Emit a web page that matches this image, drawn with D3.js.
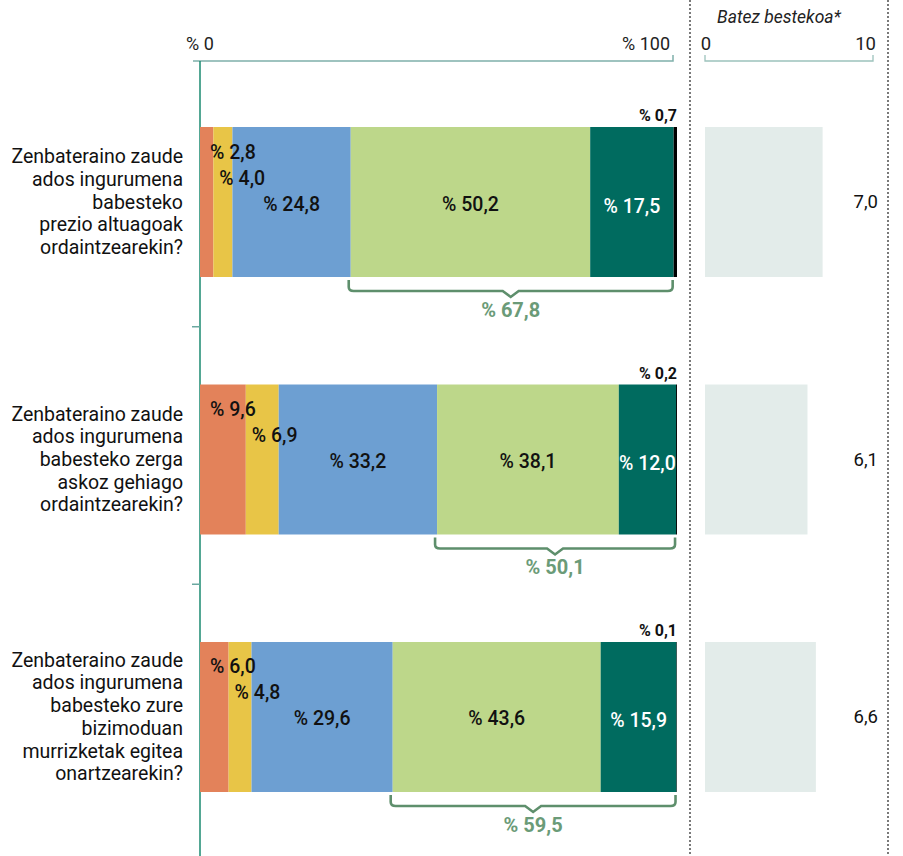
<!DOCTYPE html>
<html><head><meta charset="utf-8">
<script src="https://cdn.jsdelivr.net/npm/d3@7"></script>
<style>
html,body{margin:0;padding:0;background:#fff;}
svg{display:block;font-family:Roboto,"Noto Sans",sans-serif;}
</style></head>
<body><svg id="chart" width="903" height="856"></svg>
<script>
const categories = [
  ["Zenbateraino zaude","ados ingurumena","babesteko","prezio altuagoak","ordaintzearekin?"],
  ["Zenbateraino zaude","ados ingurumena","babesteko zerga","askoz gehiago","ordaintzearekin?"],
  ["Zenbateraino zaude","ados ingurumena","babesteko zure","bizimoduan","murrizketak egitea","onartzearekin?"]
];
const seg1 = [2.8, 9.6, 6.0];
const seg2 = [4.0, 6.9, 4.8];
const seg3 = [24.8, 33.2, 29.6];
const seg4 = [50.2, 38.1, 43.6];
const seg5 = [17.5, 12.0, 15.9];
const seg6 = [0.7, 0.2, 0.1];
const agreeTotals = [67.8, 50.1, 59.5];
const averages = [7.0, 6.1, 6.6];
const pctTicks = [0, 100];
const avgTicks = [0, 10];

const colors = ["#e3825a","#e8c547","#6d9fd2","#bdd78a","#006b5f","#000000"];
const series = [seg1, seg2, seg3, seg4, seg5, seg6];
const fmt = v => "% " + d3.format(".1f")(v).replace(".", ",");
const fmtN = v => d3.format(".1f")(v).replace(".", ",");

const svg = d3.select("#chart");
const x = d3.scaleLinear().domain([0,100]).range([200,677]);
const xa = d3.scaleLinear().domain([0,10]).range([705,873]);
const y = d3.scaleBand().domain(d3.range(categories.length)).range([19.5,899.5]).paddingInner(0.4175).paddingOuter(0.4175);
const bw = y.bandwidth();

// dotted separators
[690, 888].forEach(px => {
  svg.append("line").attr("x1",px).attr("x2",px).attr("y1",0).attr("y2",856)
    .attr("stroke","#333").attr("stroke-width",1.3).attr("stroke-dasharray","2,2");
});

// top percent axis
const axTop = 61;
svg.append("path")
  .attr("d", `M${x(0)-7},${axTop}H${x(100)-4}V${axTop-6}`)
  .attr("fill","none").attr("stroke","#7fb0aa").attr("stroke-width",1.5);
svg.selectAll(".ptick").data(pctTicks).join("text")
  .attr("x", d => d===0 ? x(d) : x(d)-7)
  .attr("y", 50)
  .attr("text-anchor", d => d===0 ? "middle" : "end")
  .attr("font-size",18).attr("fill","#222")
  .text(d => "% " + d);

// left vertical axis
svg.append("line").attr("x1",x(0)).attr("x2",x(0)).attr("y1",axTop).attr("y2",856)
  .attr("stroke","#1a8a70").attr("stroke-width",1.5);
d3.range(1, categories.length).forEach(i => {
  const yy = y(i) - y.step()*y.paddingInner()/2 - 4;
  svg.append("line").attr("x1",x(0)-8).attr("x2",x(0)).attr("y1",yy).attr("y2",yy)
    .attr("stroke","#6aa8a0").attr("stroke-width",1.5);
});

// right average axis
svg.append("path")
  .attr("d", `M${xa(0)},${axTop-6}V${axTop}H${xa(10)}V${axTop-6}`)
  .attr("fill","none").attr("stroke","#9cc2bc").attr("stroke-width",1.3);
svg.selectAll(".atick").data(avgTicks).join("text")
  .attr("x", d => d===0 ? xa(d)+1 : xa(d)+3)
  .attr("y", 50)
  .attr("text-anchor", d => d===0 ? "middle" : "end")
  .attr("font-size",18.5).attr("fill","#222")
  .text(d => d);
svg.append("text").attr("x",779).attr("y",23).attr("text-anchor","middle")
  .attr("font-size",17.5).attr("font-style","italic").attr("fill","#222").text("Batez bestekoa*");

// stacked bars
categories.forEach((cat, i) => {
  const y0 = y(i);
  const cy = y0 + bw/2;
  let acc = 0;
  const starts = [];
  series.forEach((s, k) => {
    starts.push(acc);
    svg.append("rect")
      .attr("x", x(acc)).attr("y", y0)
      .attr("width", x(acc + s[i]) - x(acc)).attr("height", bw)
      .attr("fill", colors[k]);
    acc += s[i];
  });
  const lab = (txt, xx, yy, anchor, color) =>
    svg.append("text").attr("x",xx).attr("y",yy).attr("text-anchor",anchor)
      .attr("dominant-baseline","central").attr("font-size",19.5)
      .attr("font-weight",500).attr("fill",color).text(txt);
  lab(fmt(seg1[i]), x(starts[0]) + 10, cy - 50, "start", "#111");
  lab(fmt(seg2[i]), x(starts[1]) + 6, cy - 24, "start", "#111");
  lab(fmt(seg3[i]), (x(starts[2]) + x(starts[3]))/2, cy + 2, "middle", "#111");
  lab(fmt(seg4[i]), (x(starts[3]) + x(starts[4]))/2, cy + 2, "middle", "#111");
  lab(fmt(seg5[i]), (x(starts[4]) + x(starts[5]))/2, cy + 4, "middle", "#fff");
  svg.append("text").attr("x", x(100)).attr("y", y0 - 6).attr("text-anchor","end")
    .attr("font-size",16).attr("font-weight",700).attr("fill","#111").text(fmt(seg6[i]));

  // bracket
  const bx1 = x(starts[3]) - 2, bx2 = x(starts[5]) - 1;
  const bc = (bx1 + bx2)/2;
  const yb = y0 + bw;
  svg.append("path")
    .attr("d", `M${bx1},${yb+3}V${yb+10}Q${bx1},${yb+14} ${bx1+5},${yb+14}H${bc-8}L${bc},${yb+20}L${bc+8},${yb+14}H${bx2-5}Q${bx2},${yb+14} ${bx2},${yb+10}V${yb+3}`)
    .attr("fill","none").attr("stroke","#5e8f6c").attr("stroke-width",2.6);
  svg.append("text").attr("x",bc).attr("y",yb+33).attr("text-anchor","middle")
    .attr("dominant-baseline","central").attr("font-size",20).attr("font-weight",700)
    .attr("fill","#6b9b78").text(fmt(agreeTotals[i]));

  // category label
  const lh = 22.7;
  const t = svg.append("text").attr("text-anchor","end").attr("font-size",19.5).attr("fill","#111");
  cat.forEach((line, j) => {
    t.append("tspan").attr("x",183)
      .attr("y", cy - (cat.length-1)*lh/2 + j*lh)
      .attr("dominant-baseline","central").text(line);
  });

  // average bar
  svg.append("rect").attr("x", xa(0)).attr("y", y0)
    .attr("width", xa(averages[i]) - xa(0)).attr("height", bw).attr("fill","#e3ecea");
  svg.append("text").attr("x",878).attr("y",cy).attr("text-anchor","end")
    .attr("dominant-baseline","central").attr("font-size",18.5).attr("fill","#111")
    .text(fmtN(averages[i]));
});
</script></body></html>
